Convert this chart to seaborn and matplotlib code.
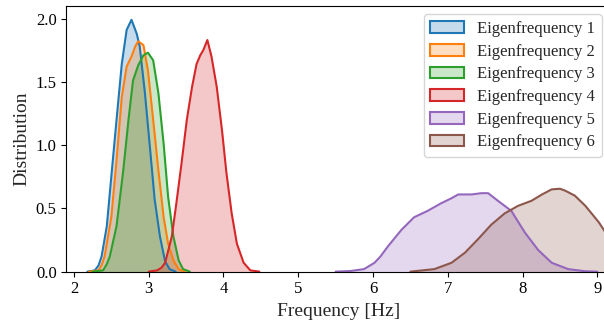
import numpy as np
import pandas as pd
import seaborn as sns
import matplotlib.pyplot as plt
from matplotlib.patches import Patch

# density curves (frequency in Hz, density)
ef1_x = [2.18, 2.28, 2.33, 2.37, 2.44, 2.50, 2.57, 2.64, 2.705, 2.77, 2.84, 2.88, 2.95, 3.02, 3.08, 3.15, 3.22, 3.28, 3.36]
ef1_y = [0.0, 0.01, 0.05, 0.12, 0.36, 0.75, 1.20, 1.64, 1.91, 1.99, 1.88, 1.78, 1.41, 0.96, 0.57, 0.28, 0.08, 0.02, 0.0]

ef2_x = [2.20, 2.33, 2.37, 2.41, 2.50, 2.57, 2.64, 2.705, 2.77, 2.82, 2.86, 2.93, 2.99, 3.06, 3.13, 3.20, 3.26, 3.33, 3.40, 3.48]
ef2_y = [0.0, 0.01, 0.05, 0.12, 0.43, 0.88, 1.38, 1.62, 1.70, 1.78, 1.82, 1.79, 1.59, 1.20, 0.80, 0.43, 0.22, 0.09, 0.02, 0.0]

ef3_x = [2.25, 2.39, 2.44, 2.48, 2.57, 2.66, 2.73, 2.79, 2.86, 2.93, 2.99, 3.06, 3.13, 3.20, 3.26, 3.33, 3.40, 3.46, 3.55]
ef3_y = [0.0, 0.01, 0.06, 0.12, 0.36, 0.80, 1.20, 1.51, 1.63, 1.71, 1.73, 1.67, 1.41, 1.01, 0.59, 0.28, 0.09, 0.02, 0.0]

ef4_x = [3.00, 3.11, 3.17, 3.22, 3.31, 3.37, 3.44, 3.51, 3.58, 3.64, 3.69, 3.73, 3.785, 3.84, 3.91, 3.98, 4.04, 4.11, 4.18, 4.27, 4.36, 4.48]
ef4_y = [0.0, 0.01, 0.03, 0.07, 0.28, 0.54, 0.86, 1.20, 1.46, 1.64, 1.71, 1.75, 1.83, 1.70, 1.46, 1.12, 0.78, 0.46, 0.22, 0.07, 0.01, 0.0]

ef5_x = [5.50, 5.70, 5.88, 6.02, 6.10, 6.20, 6.38, 6.55, 6.73, 6.91, 7.05, 7.14, 7.32, 7.45, 7.54, 7.67, 7.85, 8.03, 8.21, 8.39, 8.61, 8.84, 9.00]
ef5_y = [0.0, 0.005, 0.02, 0.07, 0.12, 0.20, 0.33, 0.43, 0.48, 0.54, 0.58, 0.61, 0.61, 0.62, 0.62, 0.56, 0.48, 0.31, 0.17, 0.07, 0.02, 0.003, 0.0]

ef6_x = [6.50, 6.82, 7.05, 7.23, 7.41, 7.58, 7.76, 7.94, 8.12, 8.26, 8.39, 8.50, 8.57, 8.70, 8.84, 9.02, 9.12, 9.25]
ef6_y = [0.0, 0.02, 0.07, 0.15, 0.26, 0.37, 0.46, 0.52, 0.56, 0.61, 0.65, 0.655, 0.64, 0.60, 0.52, 0.39, 0.30, 0.22]

labels = [f'Eigenfrequency {i}' for i in range(1, 7)]
curves = [(ef1_x, ef1_y), (ef2_x, ef2_y), (ef3_x, ef3_y),
          (ef4_x, ef4_y), (ef5_x, ef5_y), (ef6_x, ef6_y)]

df = pd.concat([pd.DataFrame({'freq': x, 'density': y, 'mode': lab})
                for (x, y), lab in zip(curves, labels)], ignore_index=True)

sns.set_style('ticks')
plt.rcParams['font.family'] = ['Liberation Serif', 'DejaVu Serif']
colors = sns.color_palette('tab10', 6)

fig = plt.figure(figsize=(6.04, 3.23), dpi=100)
ax = fig.add_axes([0.110, 0.159, 0.900, 0.822])

sns.lineplot(data=df, x='freq', y='density', hue='mode', palette=colors,
             sort=False, estimator=None, linewidth=1.5, legend=False, ax=ax)
for line in ax.lines:
    line.set_solid_joinstyle('round')
for lab, c in zip(labels, colors):
    sub = df[df['mode'] == lab]
    ax.fill_between(sub['freq'], sub['density'], color=c, alpha=0.25, linewidth=0)

handles = [Patch(facecolor=(*c, 0.25), edgecolor=c, linewidth=1.5) for c in colors]
ax.legend(handles, labels, loc='upper right', fontsize=12, labelspacing=0.4,
          frameon=True)

ax.set_xlim(1.90, 9.17)
ax.set_ylim(0, 2.098)
ax.set_xticks(range(2, 10))
ax.set_yticks([0.0, 0.5, 1.0, 1.5, 2.0])
ax.set_yticklabels(['0.0', '0.5', '1.0', '1.5', '2.0'])
ax.tick_params(labelsize=12, colors='black')
ax.set_xlabel('Frequency [Hz]', fontsize=14)
ax.set_ylabel('Distribution', fontsize=14)
for s in ax.spines.values():
    s.set_color('black')

fig.savefig('out.png', dpi=100)
